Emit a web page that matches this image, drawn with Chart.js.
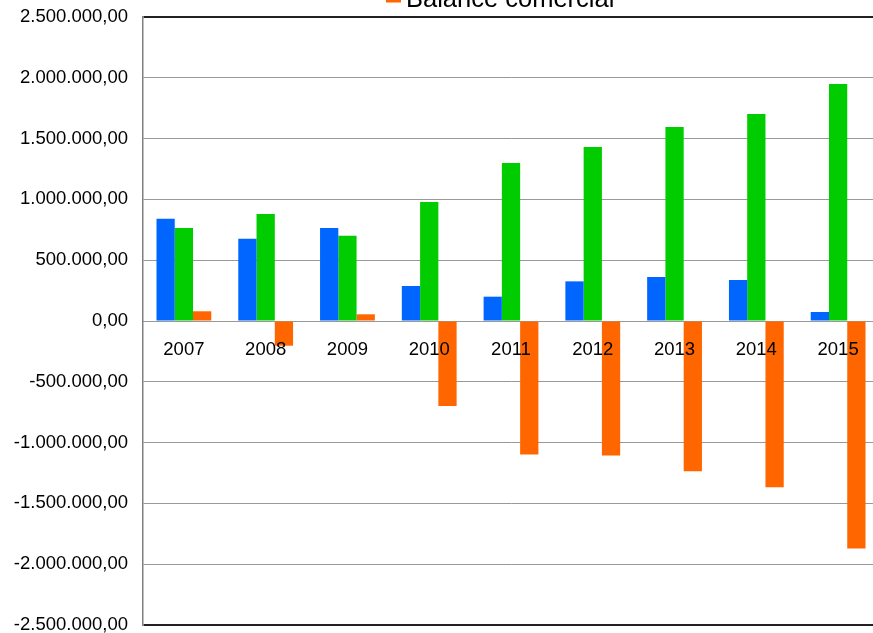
<!DOCTYPE html>
<html><head><meta charset="utf-8">
<script src="https://cdn.jsdelivr.net/npm/chart.js@4/dist/chart.umd.min.js"></script>
<style>
html,body{margin:0;padding:0;overflow:hidden;background:#fff}
#wrap{position:relative;width:880px;height:640px}
</style></head>
<body><div id="wrap"><canvas id="c"></canvas></div>
<script>
const categories = ['2007','2008','2009','2010','2011','2012','2013','2014','2015'];
const seriesNames = ['Exportaciones','Importaciones','Balance comercial'];
const exportaciones = [840000, 677000, 765000, 288000, 200000, 326000, 362000, 337000, 74000];
const importaciones = [765000, 880000, 702000, 979000, 1299000, 1431000, 1595000, 1702000, 1949000];
const balance = [80000, -203000, 55000, -700000, -1097000, -1107000, -1235000, -1367000, -1870000];
const seriesColors = ['#0066ff','#00cc00','#ff6600'];
const yMin = -2500000, yMax = 2500000, yStep = 500000;

const FONT = '"Liberation Sans", Arial, sans-serif';
const FSIZE = 18.5;
const LEGEND_FSIZE = 25.5;

function fmt(v){
  const neg = v < 0; v = Math.abs(Math.round(v));
  const s = String(v).replace(/\B(?=(\d{3})+(?!\d))/g, '.');
  return (neg ? '-' : '') + s + ',00';
}

const topLegend = {
  id: 'topLegend',
  afterDraw(chart){
    const ctx = chart.ctx;
    const ds = chart.data.datasets[2];
    ctx.save();
    ctx.fillStyle = ds.backgroundColor;
    ctx.fillRect(386, -12, 15, 14.5);
    ctx.font = LEGEND_FSIZE + 'px ' + FONT;
    ctx.fillStyle = '#000';
    ctx.textBaseline = 'alphabetic';
    ctx.textAlign = 'left';
    ctx.fillText(ds.label, 406, 7);
    ctx.restore();
  }
};

new Chart(document.getElementById('c'), {
  type: 'bar',
  data: {
    labels: categories,
    datasets: [
      {label: seriesNames[0], data: exportaciones, backgroundColor: seriesColors[0]},
      {label: seriesNames[1], data: importaciones, backgroundColor: seriesColors[1]},
      {label: seriesNames[2], data: balance, backgroundColor: seriesColors[2]}
    ]
  },
  options: {
    responsive: true,
    maintainAspectRatio: false,
    animation: false,
    layout: {padding: {top: 17, bottom: 15, left: 0, right: 1}},
    datasets: {bar: {categoryPercentage: 0.67, barPercentage: 1.0, borderWidth: 0}},
    plugins: {legend: {display: false}, tooltip: {enabled: false}},
    scales: {
      x: {
        position: {y: 0},
        z: 1,
        grid: {display: false, drawTicks: false},
        border: {display: true, color: '#999999', width: 1},
        ticks: {z: 1, color: '#000', padding: 18, font: {family: FONT, size: FSIZE}, maxRotation: 0, autoSkip: false},
        afterFit(scale){ scale.paddingLeft = 0; scale.paddingRight = 0; }
      },
      y: {
        min: yMin, max: yMax,
        afterFit(scale){ scale.width = 143; scale.paddingTop = 0; scale.paddingBottom = 0; },
        grid: {
          drawTicks: false,
          color: c => (c.tick && (c.tick.value === yMax || c.tick.value === yMin)) ? '#222222' : '#999999',
          lineWidth: c => (c.tick && (c.tick.value === yMax || c.tick.value === yMin)) ? 2 : 1
        },
        border: {display: true, color: '#808080', width: 1.5},
        ticks: {
          stepSize: yStep, color: '#000', padding: 15,
          font: {family: FONT, size: FSIZE},
          callback: v => fmt(v)
        }
      }
    }
  },
  plugins: [topLegend]
});
</script>
</body></html>
